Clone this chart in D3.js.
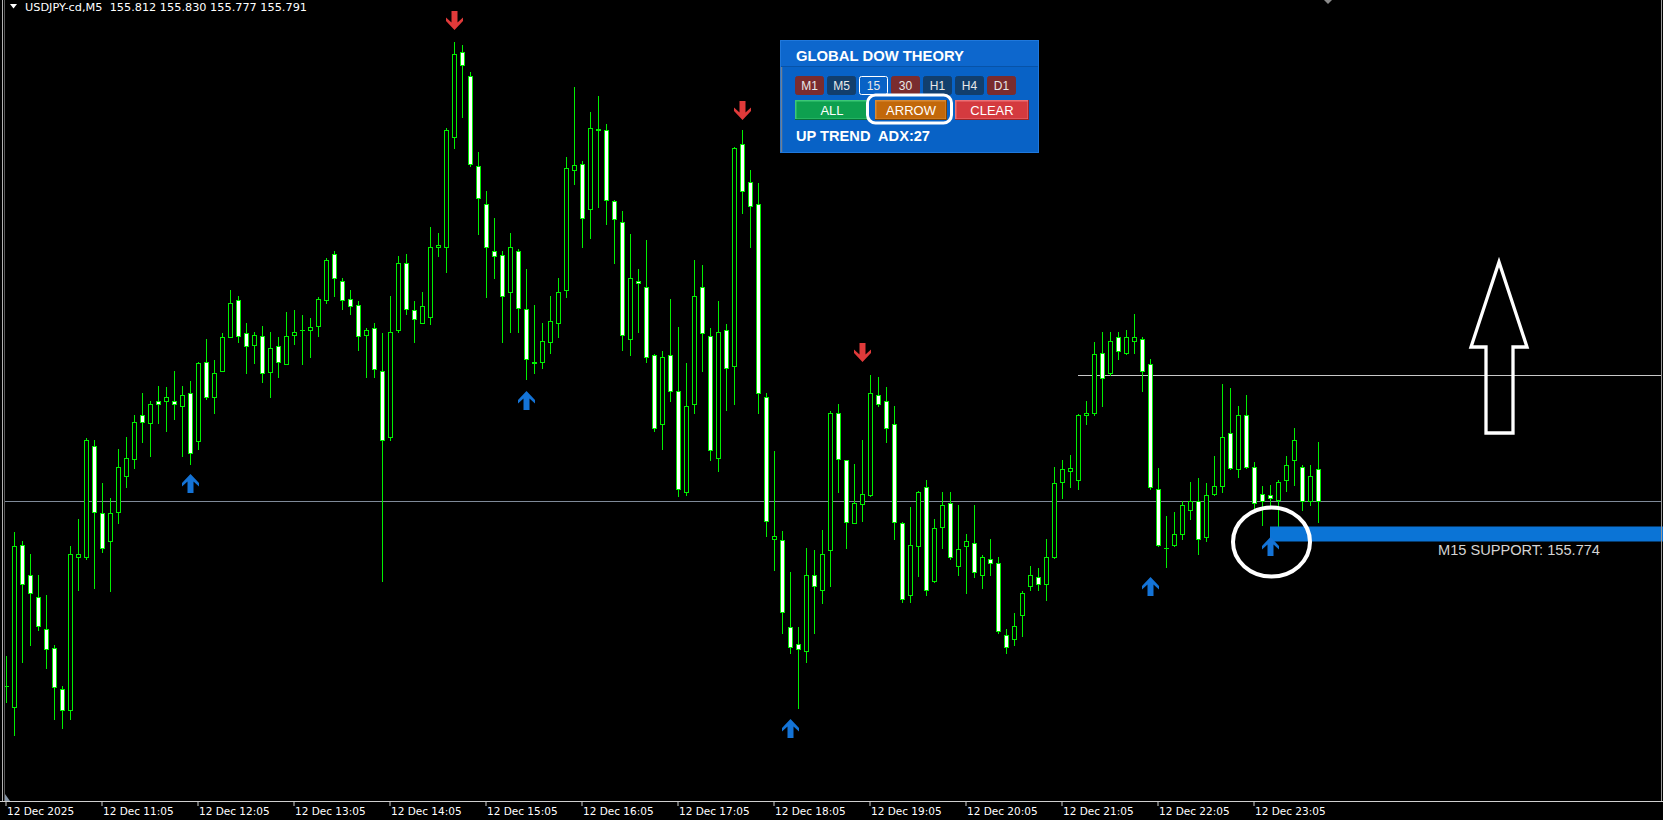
<!DOCTYPE html>
<html><head><meta charset="utf-8">
<script src="https://cdn.jsdelivr.net/npm/d3@7"></script>
<style>html,body{margin:0;padding:0;background:#000;overflow:hidden}svg{display:block}</style>
</head><body><svg id="c" width="1663" height="820"></svg>
<script>
const titleText = "USDJPY-cd,M5  155.812 155.830 155.777 155.791";
const times = [
"10:05","10:10","10:15","10:20","10:25","10:30","10:35","10:40","10:45","10:50","10:55","11:00",
"11:05","11:10","11:15","11:20","11:25","11:30","11:35","11:40","11:45","11:50","11:55","12:00",
"12:05","12:10","12:15","12:20","12:25","12:30","12:35","12:40","12:45","12:50","12:55","13:00",
"13:05","13:10","13:15","13:20","13:25","13:30","13:35","13:40","13:45","13:50","13:55","14:00",
"14:05","14:10","14:15","14:20","14:25","14:30","14:35","14:40","14:45","14:50","14:55","15:00",
"15:05","15:10","15:15","15:20","15:25","15:30","15:35","15:40","15:45","15:50","15:55","16:00",
"16:05","16:10","16:15","16:20","16:25","16:30","16:35","16:40","16:45","16:50","16:55","17:00",
"17:05","17:10","17:15","17:20","17:25","17:30","17:35","17:40","17:45","17:50","17:55","18:00",
"18:05","18:10","18:15","18:20","18:25","18:30","18:35","18:40","18:45","18:50","18:55","19:00",
"19:05","19:10","19:15","19:20","19:25","19:30","19:35","19:40","19:45","19:50","19:55","20:00",
"20:05","20:10","20:15","20:20","20:25","20:30","20:35","20:40","20:45","20:50","20:55","21:00",
"21:05","21:10","21:15","21:20","21:25","21:30","21:35","21:40","21:45","21:50","21:55","22:00",
"22:05","22:10","22:15","22:20","22:25","22:30","22:35","22:40","22:45","22:50","22:55","23:00",
"23:05","23:10","23:15","23:20","23:25","23:30","23:35","23:40","23:45"];
const opens = [
155.668,155.654,155.762,155.742,155.727,155.706,155.693,155.666,155.652,155.754,155.754,155.828,
155.783,155.764,155.784,155.808,155.819,155.848,155.843,155.858,155.858,155.858,155.854,155.863,
155.831,155.884,155.860,155.878,155.900,155.925,155.903,155.895,155.901,155.877,155.894,155.882,
155.902,155.905,155.905,155.908,155.925,155.956,155.938,155.926,155.922,155.902,155.906,155.878,
155.834,155.905,155.950,155.918,155.910,155.914,155.960,155.960,156.034,156.090,156.074,156.014,
155.989,155.958,155.955,155.930,155.958,155.919,155.884,155.884,155.897,155.910,155.932,156.012,
156.016,155.986,156.039,156.038,155.991,155.977,155.899,155.938,155.934,155.888,155.842,155.888,
155.864,155.797,155.856,155.934,155.901,155.820,155.905,155.881,156.029,156.004,155.989,155.860,
155.766,155.765,155.707,155.696,155.691,155.742,155.732,155.758,155.850,155.818,155.776,155.789,
155.795,155.862,155.858,155.842,155.776,155.728,155.761,155.800,155.738,155.774,155.790,155.748,
155.761,155.763,155.742,155.752,155.750,155.702,155.699,155.715,155.734,155.740,155.736,155.754,
155.804,155.811,155.805,155.848,155.850,155.890,155.876,155.900,155.890,155.898,155.899,155.882,
155.799,155.760,155.762,155.769,155.785,155.791,155.767,155.796,155.801,155.836,155.812,155.848,
155.814,155.796,155.795,155.792,155.805,155.818,155.814,155.791,155.812];
const highs = [
155.688,155.770,155.764,155.756,155.742,155.728,155.695,155.668,155.761,155.779,155.833,155.832,
155.803,155.793,155.826,155.834,155.848,155.863,155.858,155.868,155.867,155.878,155.868,155.871,
155.884,155.899,155.885,155.903,155.932,155.928,155.910,155.904,155.908,155.904,155.900,155.917,
155.918,155.915,155.913,155.927,155.953,155.958,155.940,155.932,155.924,155.906,155.910,155.903,
155.928,155.954,155.956,155.924,155.930,155.974,155.970,156.040,156.097,156.095,156.077,156.024,
155.998,155.980,155.958,155.970,155.959,155.946,155.922,155.910,155.928,155.940,156.020,156.067,
156.018,156.050,156.061,156.042,155.992,155.984,155.969,155.946,155.965,155.889,155.891,155.926,
155.907,155.883,155.952,155.948,155.906,155.924,155.909,156.027,156.038,156.012,156.003,155.863,
155.824,155.771,155.744,155.707,155.760,155.758,155.772,155.851,155.856,155.818,155.816,155.832,
155.875,155.874,155.867,155.854,155.777,155.787,155.798,155.805,155.779,155.797,155.797,155.788,
155.769,155.788,155.755,155.766,155.754,155.706,155.716,155.731,155.748,155.746,155.766,155.814,
155.818,155.822,155.849,155.858,155.897,155.904,155.904,155.904,155.905,155.916,155.900,155.886,
155.813,155.781,155.784,155.791,155.804,155.806,155.803,155.821,155.869,155.866,155.854,155.862,
155.817,155.801,155.802,155.805,155.821,155.840,155.815,155.815,155.830];
const lows = [
155.657,155.635,155.684,155.695,155.705,155.680,155.646,155.640,155.646,155.732,155.752,155.733,
155.757,155.731,155.776,155.800,155.813,155.830,155.821,155.843,155.838,155.846,155.821,155.816,
155.826,155.859,155.850,155.878,155.900,155.897,155.876,155.883,155.870,155.860,155.874,155.882,
155.896,155.882,155.887,155.901,155.923,155.928,155.919,155.916,155.892,155.874,155.874,155.738,
155.832,155.904,155.916,155.897,155.910,155.909,155.954,155.944,156.026,156.047,156.014,155.969,
155.927,155.940,155.897,155.904,155.904,155.872,155.876,155.880,155.890,155.900,155.927,156.002,
155.960,155.966,155.987,155.976,155.950,155.892,155.888,155.904,155.884,155.838,155.826,155.858,
155.794,155.795,155.850,155.878,155.818,155.811,155.852,155.856,155.983,155.960,155.850,155.768,
155.745,155.703,155.690,155.653,155.684,155.703,155.723,155.734,155.797,155.760,155.776,155.778,
155.794,155.854,155.830,155.766,155.724,155.724,155.741,155.728,155.737,155.760,155.752,155.742,
155.730,155.740,155.733,155.742,155.703,155.690,155.695,155.701,155.732,155.732,155.725,155.753,
155.793,155.800,155.799,155.842,155.848,155.854,155.875,155.886,155.889,155.890,155.864,155.799,
155.761,155.747,155.761,155.766,155.779,155.756,155.764,155.795,155.797,155.812,155.807,155.813,
155.786,155.775,155.787,155.774,155.798,155.802,155.785,155.788,155.777];
const closes = [
155.668,155.761,155.736,155.730,155.708,155.692,155.667,155.652,155.756,155.756,155.832,155.784,
155.760,155.783,155.814,155.820,155.844,155.844,155.856,155.856,155.860,155.856,155.862,155.823,
155.883,155.860,155.876,155.900,155.923,155.901,155.894,155.902,155.876,155.893,155.884,155.901,
155.904,155.905,155.907,155.926,155.952,155.940,155.925,155.921,155.901,155.905,155.879,155.832,
155.904,155.950,155.919,155.912,155.921,155.960,155.962,156.038,156.089,156.082,156.016,155.993,
155.960,155.954,155.928,155.960,155.920,155.886,155.883,155.898,155.911,155.930,156.013,156.015,
155.980,156.040,156.038,155.992,155.979,155.902,155.940,155.936,155.887,155.840,155.887,155.864,
155.799,155.854,155.928,155.903,155.825,155.904,155.880,156.026,155.998,155.988,155.863,155.778,
155.768,155.717,155.694,155.692,155.742,155.734,155.756,155.850,155.819,155.777,155.790,155.796,
155.863,155.856,155.840,155.777,155.726,155.762,155.797,155.732,155.773,155.788,155.754,155.759,
155.764,155.744,155.754,155.750,155.704,155.694,155.708,155.730,155.742,155.736,155.754,155.803,
155.812,155.813,155.848,155.850,155.889,155.873,155.898,155.891,155.900,155.900,155.878,155.800,
155.762,155.760,155.769,155.788,155.791,155.766,155.795,155.801,155.834,155.813,155.848,155.814,
155.790,155.791,155.793,155.804,155.815,155.832,155.791,155.808,155.791];
const tickTimes = ["10:05","11:05","12:05","13:05","14:05","15:05","16:05","17:05","18:05","19:05","20:05","21:05","22:05","23:05"];
const tickLabels = ["12 Dec 2025","12 Dec 11:05","12 Dec 12:05","12 Dec 13:05","12 Dec 14:05","12 Dec 15:05","12 Dec 16:05","12 Dec 17:05","12 Dec 18:05","12 Dec 19:05","12 Dec 20:05","12 Dec 21:05","12 Dec 22:05","12 Dec 23:05"];
const upArrowTimes = ["12:00","15:30","18:15","22:00","23:15"];
const upArrowPrices = [155.809,155.864,155.646,155.740,155.767];
const downArrowTimes = ["14:45","17:45","19:00"];
const downArrowPrices = [156.105,156.045,155.884];
const bidPrice = 155.791;
const levelPrice = 155.875, levelStart = "21:15";
const supportTop = 155.774, supportBottom = 155.764, supportStart = "23:15";
const supportLabel = "M15 SUPPORT: 155.774";
const panelTitle = "GLOBAL DOW THEORY";
const tfButtons = ["M1","M5","15","30","H1","H4","D1"];
const actionButtons = ["ALL","ARROW","CLEAR"];
const trendText = "UP TREND  ADX:27";

const W = 1663, H = 820, AXIS_Y = 801;
const svg = d3.select("#c");
svg.append("rect").attr("width",W).attr("height",H).attr("fill","#000");

const x = d3.scaleBand().domain(times).range([2, 2 + 8*times.length]).padding(0);
const y = d3.scaleLinear().domain([155.591, 156.125]).range([AXIS_Y, 0]);
const cx = t => x(t) + x.bandwidth()/2;
const py = p => Math.round(y(p)) + 0.5;

// horizontal lines
svg.append("line").attr("x1",5).attr("x2",1661).attr("y1",py(bidPrice)).attr("y2",py(bidPrice))
  .attr("stroke","#7f8a99").attr("stroke-width",1);
svg.append("line").attr("x1",cx(levelStart)).attr("x2",1661).attr("y1",py(levelPrice)).attr("y2",py(levelPrice))
  .attr("stroke","#c8c8c8").attr("stroke-width",1);

// candles
const data = times.map((t,i)=>({t, o:opens[i], h:highs[i], l:lows[i], c:closes[i]}));
const cg = svg.append("g");
cg.selectAll("line.w").data(data).join("line").attr("class","w")
  .attr("x1",d=>cx(d.t)+0.5).attr("x2",d=>cx(d.t)+0.5)
  .attr("y1",d=>Math.round(y(d.h))).attr("y2",d=>Math.round(y(d.l))+1)
  .attr("stroke","#00f000").attr("stroke-width",1);
cg.selectAll("rect.b").data(data.filter(d=>d.o!==d.c)).join("rect").attr("class","b")
  .attr("x",d=>cx(d.t)-1.5).attr("width",4)
  .attr("y",d=>py(Math.max(d.o,d.c)))
  .attr("height",d=>Math.max(1, py(Math.min(d.o,d.c)) - py(Math.max(d.o,d.c))))
  .attr("fill",d=>d.c>d.o?"#000":"#fff").attr("stroke","#00f000").attr("stroke-width",1);
cg.selectAll("line.d").data(data.filter(d=>d.o===d.c)).join("line").attr("class","d")
  .attr("x1",d=>cx(d.t)-2).attr("x2",d=>cx(d.t)+3)
  .attr("y1",d=>py(d.o)).attr("y2",d=>py(d.o)).attr("stroke","#00f000").attr("stroke-width",1);

// support band
svg.append("rect").attr("x",cx(supportStart)).attr("y",y(supportTop))
  .attr("width",W - cx(supportStart)).attr("height",y(supportBottom)-y(supportTop)).attr("fill","#0b74d6");
svg.append("text").attr("x",1438).attr("y",555).text(supportLabel)
  .attr("font-family","Liberation Sans, Arial, sans-serif").attr("font-size",14)
  .attr("textLength",162).attr("lengthAdjust","spacingAndGlyphs").attr("fill","#d4d4d4");

// signal arrows
const upPath = "M0,0 L8.5,9 L8.5,12.5 L3,7.5 L3,19 L-3,19 L-3,7.5 L-8.5,12.5 L-8.5,9 Z";
svg.selectAll("path.up").data(upArrowTimes.map((t,i)=>({t,p:upArrowPrices[i]}))).join("path").attr("class","up")
  .attr("d",upPath).attr("transform",d=>`translate(${cx(d.t)+0.5},${Math.round(y(d.p))})`).attr("fill","#1473d6");
svg.selectAll("path.dn").data(downArrowTimes.map((t,i)=>({t,p:downArrowPrices[i]}))).join("path").attr("class","dn")
  .attr("d",upPath).attr("transform",d=>`translate(${cx(d.t)+0.5},${Math.round(y(d.p))}) scale(1,-1)`).attr("fill","#e03a3a");

// big hollow arrow
svg.append("polygon").attr("points","1499,262 1527,347 1513,347 1513,433 1486,433 1486,347 1471,347")
  .attr("fill","none").attr("stroke","#fff").attr("stroke-width",3.3).attr("stroke-linejoin","miter");

// circle
svg.append("ellipse").attr("cx",1271.5).attr("cy",542).attr("rx",38.5).attr("ry",34.5)
  .attr("fill","none").attr("stroke","#fff").attr("stroke-width",4);

// panel
const pg = svg.append("g");
pg.append("rect").attr("x",780).attr("y",40).attr("width",259).attr("height",113).attr("fill","#0862c6");
pg.append("rect").attr("x",780).attr("y",40).attr("width",259).attr("height",26).attr("fill","#0d67cd");
pg.append("line").attr("x1",780).attr("x2",1039).attr("y1",66.5).attr("y2",66.5).attr("stroke","#0753a8");
pg.append("rect").attr("x",780.5).attr("y",40.5).attr("width",258).attr("height",112).attr("fill","none").attr("stroke","#1f78dc");
pg.append("line").attr("x1",781.5).attr("x2",781.5).attr("y1",67).attr("y2",152).attr("stroke","#6f7f92").attr("stroke-width",1.5);
pg.append("text").attr("x",796).attr("y",60.5).text(panelTitle).attr("font-family","Liberation Sans, Arial, sans-serif")
  .attr("font-weight","bold").attr("font-size",15).attr("fill","#fff").attr("textLength",168).attr("lengthAdjust","spacingAndGlyphs");
const tfFill = {"M1":"#7a2c2e","M5":"#123f6d","15":"#0862c6","30":"#7a2c2e","H1":"#123f6d","H4":"#123f6d","D1":"#7a2c2e"};
tfButtons.forEach((b,i)=>{
  const bx = 795 + i*32;
  pg.append("rect").attr("x",bx+0.5).attr("y",76.5).attr("width",28).attr("height",18).attr("rx",2)
    .attr("fill",tfFill[b]).attr("stroke",b==="15"?"#ffffff":tfFill[b]).attr("stroke-width",1);
  pg.append("text").attr("x",bx+14.5).attr("y",90).attr("text-anchor","middle").text(b)
    .attr("font-family","Liberation Sans, Arial, sans-serif").attr("font-size",12).attr("fill","#e8e8e8");
});
const actFill = {"ALL":["#0ea04f","#3cc877","#06703a"],"ARROW":["#c2680a","#d98a34","#7a4205"],"CLEAR":["#d43a3f","#ec7075","#9a2428"]};
const actX = {"ALL":[795,74],"ARROW":[875,72],"CLEAR":[955,74]};
actionButtons.forEach(b=>{
  const [bx,bw] = actX[b], f = actFill[b];
  pg.append("rect").attr("x",bx).attr("y",100).attr("width",bw).attr("height",20).attr("fill",f[2]);
  pg.append("rect").attr("x",bx).attr("y",100).attr("width",bw-1).attr("height",19).attr("fill",f[1]);
  pg.append("rect").attr("x",bx+1.5).attr("y",101.5).attr("width",bw-3).attr("height",17).attr("fill",f[0]);
  pg.append("text").attr("x",bx+bw/2).attr("y",115).attr("text-anchor","middle").text(b)
    .attr("font-family","Liberation Sans, Arial, sans-serif").attr("font-size",13).attr("fill","#fff");
});
pg.append("rect").attr("x",867.5).attr("y",95).attr("width",84).attr("height",28).attr("rx",8)
  .attr("fill","none").attr("stroke","#fff").attr("stroke-width",3);
pg.append("text").attr("x",796).attr("y",141).text(trendText).attr("font-family","Liberation Sans, Arial, sans-serif")
  .attr("font-weight","bold").attr("font-size",14).attr("fill","#fff").attr("textLength",134).attr("lengthAdjust","spacingAndGlyphs")
  .attr("xml:space","preserve").style("white-space","pre");

// borders
svg.append("line").attr("x1",2.5).attr("x2",2.5).attr("y1",0).attr("y2",AXIS_Y).attr("stroke","#b4b4b4");
svg.append("line").attr("x1",4.5).attr("x2",4.5).attr("y1",0).attr("y2",AXIS_Y).attr("stroke","#5a5a5a");
svg.append("line").attr("x1",1661.5).attr("x2",1661.5).attr("y1",0).attr("y2",AXIS_Y).attr("stroke","#9a9a9a");
svg.append("polygon").attr("points","1324,0 1332,0 1328,4").attr("fill","#8a8a8a");
svg.append("polygon").attr("points","5,794 5,801 10,801").attr("fill","#8696a8");

// header
svg.append("polygon").attr("points","10,4 17,4 13.5,8.5").attr("fill","#fff");
svg.append("text").attr("x",25).attr("y",11).text(titleText).style("white-space","pre")
  .attr("font-family","DejaVu Sans, sans-serif").attr("font-size",10.5).attr("fill","#fff")
  .attr("textLength",282).attr("lengthAdjust","spacingAndGlyphs");

// time axis
svg.append("line").attr("x1",0).attr("x2",W).attr("y1",AXIS_Y+0.5).attr("y2",AXIS_Y+0.5).attr("stroke","#d0d0d0");
const ax = svg.append("g").attr("transform",`translate(0,${AXIS_Y})`)
  .call(d3.axisBottom(x).tickValues(tickTimes).tickFormat((d,i)=>tickLabels[i]).tickSize(5).tickSizeOuter(0));
ax.select(".domain").remove();
ax.selectAll(".tick line").attr("stroke","#d0d0d0");
ax.selectAll(".tick text").attr("text-anchor","start").attr("x",1).attr("y",14).attr("dy",0)
  .attr("fill","#ffffff").attr("font-family","DejaVu Sans, sans-serif").attr("font-size",10.5);
</script></body></html>
